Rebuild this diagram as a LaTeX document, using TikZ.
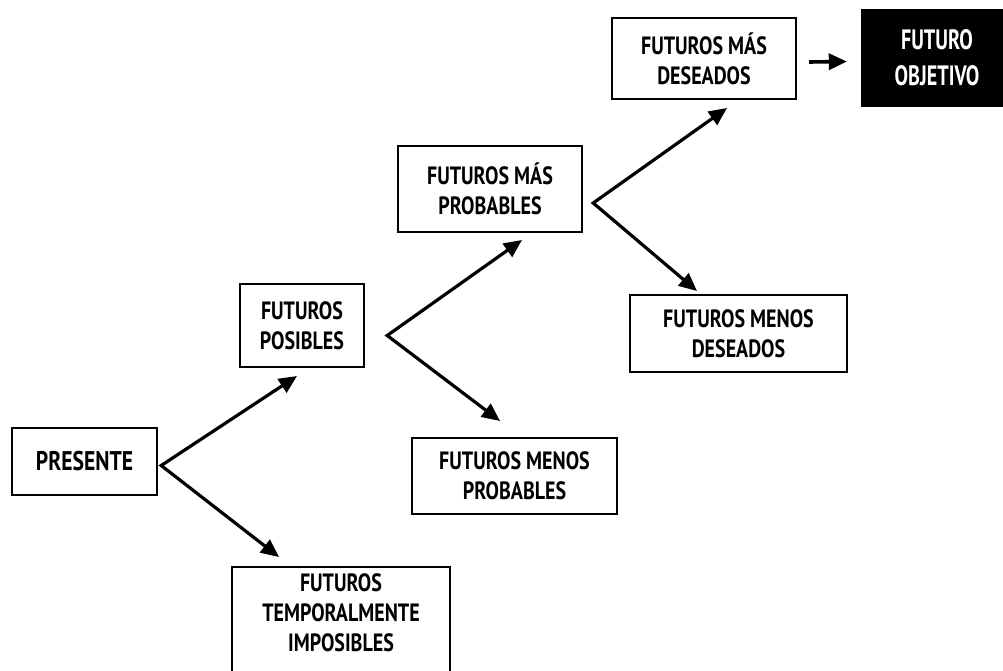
\documentclass[tikz,border=0pt]{standalone}
\usepackage{fontspec}
\setmainfont{PT Sans}[FakeStretch=0.8]
\newfontfamily\goalfont{PT Sans}[FakeStretch=0.72]
\usetikzlibrary{arrows.meta}
\tikzset{headtip/.tip={Triangle[length=18pt,width=16pt]}}
\begin{document}
\begin{tikzpicture}[x=1pt,y=-1pt,
  box/.style={draw=black, line width=2.4pt, fill=white, align=center,
    font=\bfseries\fontsize{25}{30}\selectfont, inner sep=0pt},
  goal/.style={box, fill=black, text=white, font=\goalfont\bfseries\fontsize{28}{36}\selectfont},
  branch/.style={line width=3.2pt, line join=miter, {headtip}-{headtip}},
  link/.style={line width=3.6pt, -{headtip}},
]
\useasboundingbox (0,0) rectangle (1003,671);

% stages of the tree
\node[box, minimum width=145pt, minimum height=67pt, font=\bfseries\fontsize{27}{30}\selectfont] (pres) at (84.5,461.5) {PRESENTE};
\node[box, minimum width=124pt, minimum height=83pt] (pos) at (302,325.5) {FUTUROS\\POSIBLES};
\node[box, minimum width=218pt, minimum height=110pt] (imp) at (341,622) {};
\node[align=center, font=\bfseries\fontsize{25}{30}\selectfont, inner sep=0pt] (imptext) at (341,613) {FUTUROS\\TEMPORALMENTE\\IMPOSIBLES};
\node[box, minimum width=205pt, minimum height=76pt] (menprob) at (514.5,476) {FUTUROS MENOS\\PROBABLES};
\node[box, minimum width=184pt, minimum height=86pt] (masprob) at (490,189) {FUTUROS MÁS\\PROBABLES};
\node[box, minimum width=217pt, minimum height=77pt] (mendes) at (738.5,333.5) {FUTUROS MENOS\\DESEADOS};
\node[box, minimum width=184pt, minimum height=81pt] (masdes) at (704,58.5) {FUTUROS MÁS\\DESEADOS};
\node[goal, minimum width=150pt, minimum height=96pt] (obj) at (937,58) {FUTURO\\OBJETIVO};

% branch points and arrow ends
\coordinate (v1) at ([xshift=3pt,yshift=-4pt]pres.east);
\coordinate (a1) at (297,376);
\coordinate (b1) at (279,557);
\coordinate (v2) at ([xshift=22pt,yshift=-10pt]pos.east);
\coordinate (a2) at (522,240);
\coordinate (b2) at (500,421);
\coordinate (v3) at ([xshift=10pt,yshift=-14pt]masprob.east);
\coordinate (a3) at (727,108);
\coordinate (b3) at (697,291);

\draw[branch] (a1) -- (v1) -- (b1);
\draw[branch] (a2) -- (v2) -- (b2);
\draw[branch] (a3) -- (v3) -- (b3);
\draw[link] ([xshift=12pt,yshift=-3.5pt]masdes.east) -- ([xshift=-14pt,yshift=-3.5pt]obj.west);
\end{tikzpicture}
\end{document}
